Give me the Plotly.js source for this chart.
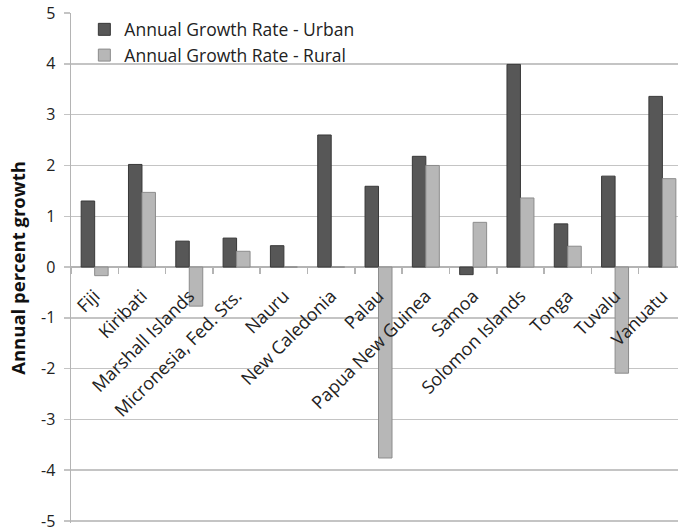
<!DOCTYPE html>
<html>
<head>
<meta charset="utf-8">
<script src="https://cdn.plot.ly/plotly-3.0.1.min.js"></script>
<style>
  html, body { margin: 0; padding: 0; background: #ffffff; }
  #chart { width: 678px; height: 532px; }
</style>
</head>
<body>
<div id="chart"></div>
<script>
// Pacific island countries
const countries = [
  "Fiji", "Kiribati", "Marshall Islands", "Micronesia, Fed. Sts.", "Nauru",
  "New Caledonia", "Palau", "Papua New Guinea", "Samoa", "Solomon Islands",
  "Tonga", "Tuvalu", "Vanuatu"
];

// Annual growth rate (%) of the urban population
const urbanGrowth = [1.30, 2.02, 0.51, 0.57, 0.42, 2.60, 1.59, 2.18, -0.15, 3.99, 0.85, 1.79, 3.36];

// Annual growth rate (%) of the rural population
const ruralGrowth = [-0.17, 1.47, -0.77, 0.31, 0, 0, -3.76, 2.00, 0.88, 1.36, 0.41, -2.09, 1.74];

const yTicks = [-5, -4, -3, -2, -1, 0, 1, 2, 3, 4, 5];

const font = "'Open Sans', 'DejaVu Sans', sans-serif";

// value range; a little room below -5 keeps that gridline visible
const yRange = [-5.04, 5.002];
// paper fraction of the zero line, where the category axis sits
const zeroPos = (0 - yRange[0]) / (yRange[1] - yRange[0]);

const traces = [
  {
    type: "bar",
    name: "Annual Growth Rate - Urban",
    x: countries,
    y: urbanGrowth,
    marker: { color: "#575757", line: { color: "#383838", width: 1 } }
  },
  {
    type: "bar",
    name: "Annual Growth Rate - Rural",
    x: countries,
    y: ruralGrowth,
    marker: { color: "#b7b7b7", line: { color: "#8c8c8c", width: 1 } }
  }
];

const layout = {
  width: 678,
  height: 532,
  margin: { l: 71, r: 0, t: 13, b: 9 },
  paper_bgcolor: "#ffffff",
  plot_bgcolor: "#ffffff",
  font: { family: font, color: "#222222", size: 14 },
  barmode: "group",
  bargap: 0.43,
  bargroupgap: 0,
  showlegend: true,
  legend: {
    x: 0.022, xanchor: "left",
    y: 1.003, yanchor: "top",
    bgcolor: "rgba(0,0,0,0)",
    font: { family: font, size: 17.5, color: "#222222" },
    tracegroupgap: 0,
    itemwidth: 30
  },
  xaxis: {
    type: "category",
    range: [-0.5, 12.33],
    anchor: "free",
    position: zeroPos,
    showline: false,
    showgrid: false,
    tickson: "boundaries",
    ticks: "outside",
    ticklen: 6,
    tickcolor: "#b4b4b4",
    tickwidth: 1.5,
    tickangle: -45,
    ticklabelstandoff: 14,
    tickfont: { family: font, size: 18, color: "#222222" },
    fixedrange: true
  },
  yaxis: {
    range: yRange,
    tickvals: yTicks,
    ticktext: yTicks.map(String),
    showgrid: true,
    gridcolor: "#c4c4c4",
    gridwidth: 1.5,
    zeroline: true,
    zerolinecolor: "#b4b4b4",
    zerolinewidth: 1.5,
    showline: true,
    linecolor: "#b4b4b4",
    linewidth: 1.5,
    ticks: "outside",
    ticklen: 6,
    tickcolor: "#c4c4c4",
    tickwidth: 1.5,
    ticklabelstandoff: 5,
    ticklabeloverflow: "allow",
    tickfont: { family: font, size: 16, color: "#222222" },
    title: {
      text: "Annual percent growth",
      font: { family: font, size: 18.5, color: "#111111", weight: "bold" },
      standoff: 10
    },
    fixedrange: true
  }
};

Plotly.newPlot("chart", traces, layout, { displayModeBar: false, staticPlot: true });
</script>
</body>
</html>
